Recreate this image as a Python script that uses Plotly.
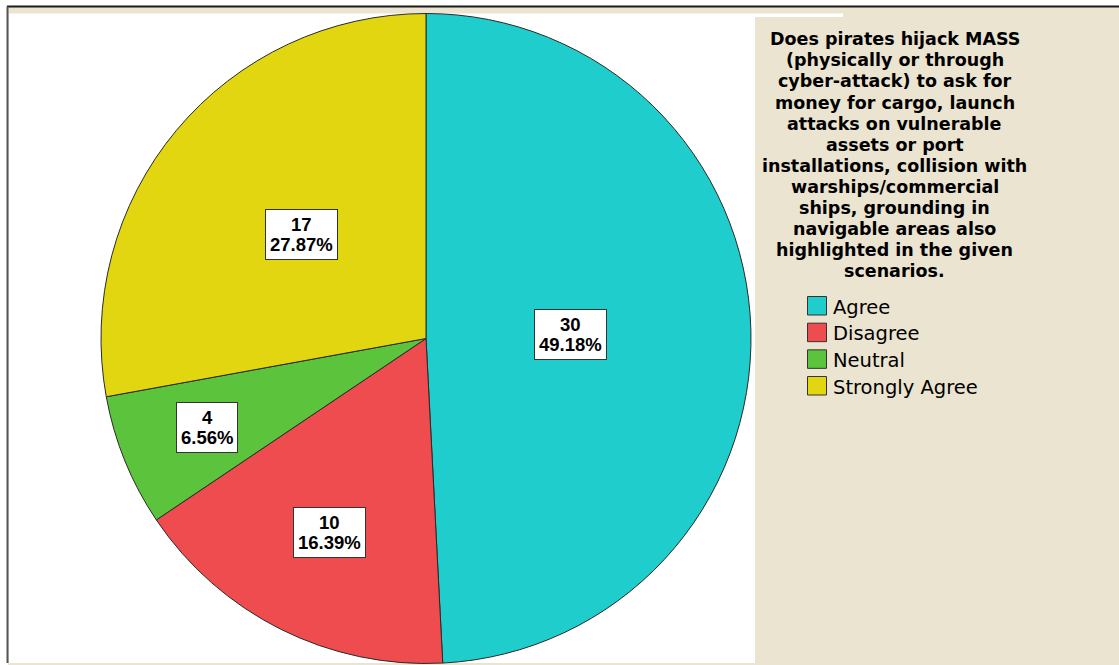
import math
import plotly.graph_objects as go

# ---- data -------------------------------------------------------------
categories = ["Agree", "Disagree", "Neutral", "Strongly Agree"]
counts = [30, 10, 4, 17]
slice_colors = ["#1ECDCC", "#EE4C4E", "#5CC43C", "#E1D610"]
title_lines = [
    "Does pirates hijack MASS",
    "(physically or through",
    "cyber-attack) to ask for",
    "money for cargo, launch",
    "attacks on vulnerable",
    "assets or port",
    "installations, collision with",
    "warships/commercial",
    "ships, grounding in",
    "navigable areas also",
    "highlighted in the given",
    "scenarios.",
]

# ---- canvas / styling -------------------------------------------------
W, H = 1119, 665
BEIGE = "#EBE4D0"
EDGE = "#2a2a2a"
CX, CY, R = 426.0, 338.5, 325.0          # pie centre and radius in pixels
label_radius = [0.444, 0.667, 0.728, 0.5]  # label distance from centre (fraction of R)


def px(x):
    return x / W


def py(y):
    return 1 - y / H


total = sum(counts)

fig = go.Figure(
    go.Pie(
        labels=categories,
        values=counts,
        sort=False,
        direction="clockwise",
        rotation=0,
        marker=dict(colors=slice_colors, line=dict(color=EDGE, width=1)),
        textinfo="none",
        hoverinfo="label+value+percent",
        showlegend=False,
        domain=dict(x=[px(CX - R), px(CX + R)], y=[py(CY + R), py(CY - R)]),
    )
)

shapes = [
    # chart frame: beige background, white plotting area
    dict(type="rect", xref="paper", yref="paper", x0=px(8), x1=px(W), y0=py(H), y1=py(7),
         fillcolor=BEIGE, line=dict(width=0), layer="below"),
    dict(type="rect", xref="paper", yref="paper", x0=px(9), x1=px(755), y0=py(663), y1=py(13.5),
         fillcolor="white", line=dict(width=0), layer="below"),
    dict(type="rect", xref="paper", yref="paper", x0=px(755), x1=px(843), y0=py(17), y1=py(13.5),
         fillcolor="white", line=dict(width=0), layer="below"),
    dict(type="line", xref="paper", yref="paper", x0=px(7), x1=px(W), y0=py(6.5), y1=py(6.5),
         line=dict(color="#1a1a1a", width=2), layer="below"),
    dict(type="line", xref="paper", yref="paper", x0=px(7.5), x1=px(7.5), y0=py(663), y1=py(6.5),
         line=dict(color="#555555", width=2), layer="below"),
]

annotations = []

# value / percentage labels inside the slices
cum = 0
for cat, c, frac in zip(categories, counts, label_radius):
    mid = (cum + c / 2) / total * 2 * math.pi
    cum += c
    lx = CX + frac * R * math.sin(mid)
    ly = CY - frac * R * math.cos(mid)
    pct = f"{c / total * 100:.2f}%"
    annotations.append(dict(
        x=px(lx), y=py(ly), xref="paper", yref="paper", showarrow=False,
        text=f"<span style='font-size:18.5px'>{c}</span><br>"
             f"<span style='font-size:18.5px'>{pct}</span>",
        font=dict(family="Liberation Sans, Arial", size=15, color="black", weight="bold"),
        bgcolor="white", bordercolor="#333333", borderwidth=1, borderpad=4,
        xanchor="center", yanchor="middle", align="center",
    ))

# legend title, one annotation per line
for i, line in enumerate(title_lines):
    annotations.append(dict(
        x=px(894.5), y=py(39.2 + i * 21.1), xref="paper", yref="paper", showarrow=False,
        text=line, xanchor="center", yanchor="middle",
        font=dict(family="DejaVu Sans", size=17.5, color="black", weight="bold"),
    ))

# legend swatches and entries
for i, (cat, col) in enumerate(zip(categories, slice_colors)):
    top = 296 + i * 26.67
    shapes.append(dict(
        type="rect", xref="paper", yref="paper",
        x0=px(807.5), x1=px(826.5), y0=py(top + 19), y1=py(top + 0.5),
        fillcolor=col, line=dict(color="#333333", width=1), layer="above",
    ))
    annotations.append(dict(
        x=px(831), y=py(top + 11), xref="paper", yref="paper", showarrow=False,
        text=cat, xanchor="left", yanchor="middle",
        font=dict(family="DejaVu Sans", size=19.5, color="black"),
    ))

fig.update_layout(
    width=W, height=H,
    margin=dict(l=0, r=0, t=0, b=0),
    paper_bgcolor="white",
    plot_bgcolor="white",
    shapes=shapes,
    annotations=annotations,
    showlegend=False,
)

fig.write_html("out.html")
